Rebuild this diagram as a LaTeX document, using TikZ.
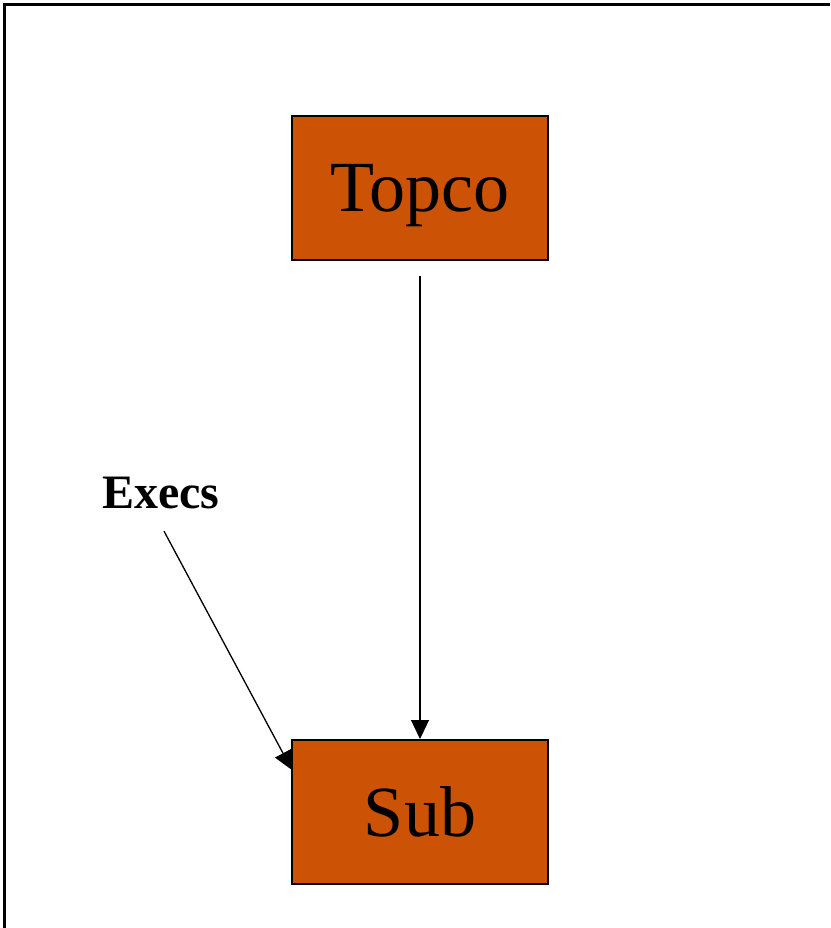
\documentclass[tikz,border=0pt]{standalone}
\usepackage{fontspec}
\setmainfont{Liberation Serif}
\usetikzlibrary{arrows.meta}
\definecolor{boxorange}{RGB}{204,82,5}
\tikzset{
  entity/.style={draw=black,line width=2pt,fill=boxorange,minimum width=256pt,
    minimum height=144pt,inner sep=0pt,text depth=0pt,font=\fontsize{72}{80}\selectfont},
  link/.style={line width=1.3pt,-{Triangle[length=19pt,width=18pt]}}
}
\begin{document}
\begin{tikzpicture}[x=1pt,y=-1pt]
      \useasboundingbox (0,0) rectangle (830,928);
      \draw[line width=2.5pt] (830,4.5) -- (4.5,4.5) -- (4.5,928);
      \node[font=\fontsize{48}{54}\selectfont\bfseries,inner sep=0pt] (execs) at (161,493) {Execs};
      \coordinate (execstip) at (292,770);
      \draw[link] ([shift={(3,22)}]execs.south) to (execstip);
      \node[entity] (topco) at (420,188) {Topco};
      \node[entity] (sub) at (420,812) {Sub};
      \begin{scope}[link]
        \draw[shorten <=15pt] (topco.south) to (sub.north);
      \end{scope}
    \end{tikzpicture}
\end{document}
